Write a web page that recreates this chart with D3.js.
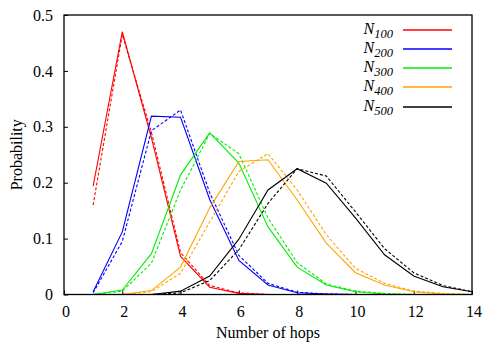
<!DOCTYPE html>
<html lang="en">
<head>
<meta charset="utf-8">
<script src="https://cdn.jsdelivr.net/npm/d3@7"></script>
<style>
  body { margin: 0; background: #fff; }
  text { font-family: "Liberation Serif", "DejaVu Serif", serif; fill: #000; }
</style>
</head>
<body>
<script>
var hops = [1, 2, 3, 4, 5, 6, 7, 8, 9, 10, 11, 12, 13, 14];
var names = ["100", "200", "300", "400", "500"];
var colors = ["#ff0000", "#0000ff", "#00ee00", "#ffa500", "#000000"];

// solid = measured, dashed = model
var n100 = [0.194, 0.47, 0.28, 0.068, 0.013, 0.002, 0, 0, 0, 0, 0, 0, 0, 0];
var n100d = [0.16, 0.465, 0.29, 0.075, 0.016, 0.003, 0, 0, 0, 0, 0, 0, 0, 0];
var n200 = [0.005, 0.112, 0.319, 0.317, 0.17, 0.061, 0.017, 0.003, 0.001, 0, 0, 0, 0, 0];
var n200d = [0.003, 0.095, 0.293, 0.33, 0.182, 0.07, 0.02, 0.004, 0.001, 0, 0, 0, 0, 0];
var n300 = [0, 0.008, 0.073, 0.214, 0.289, 0.235, 0.121, 0.049, 0.017, 0.005, 0.001, 0, 0, 0];
var n300d = [0, 0.006, 0.056, 0.187, 0.288, 0.252, 0.137, 0.057, 0.019, 0.006, 0.002, 0, 0, 0];
var n400 = [0, 0, 0.007, 0.049, 0.155, 0.238, 0.241, 0.169, 0.092, 0.039, 0.017, 0.005, 0.001, 0];
var n400d = [0, 0, 0.005, 0.038, 0.13, 0.22, 0.252, 0.187, 0.107, 0.047, 0.02, 0.006, 0.002, 0];
var n500 = [0, 0, 0, 0.006, 0.033, 0.099, 0.187, 0.225, 0.199, 0.137, 0.071, 0.033, 0.014, 0.005];
var n500d = [0, 0, 0, 0.003, 0.025, 0.08, 0.163, 0.225, 0.212, 0.148, 0.082, 0.039, 0.016, 0.005];

var solids = [n100, n200, n300, n400, n500];
var dashes = [n100d, n200d, n300d, n400d, n500d];

var w = 485, h = 346;
var pl = 64, pr = 472, pt = 15, pb = 294.5;

var svg = d3.select("body").append("svg")
  .attr("width", w)
  .attr("height", h);

var x = d3.scaleLinear().domain([0, 14]).range([pl, pr]);
var y = d3.scaleLinear().domain([0, 0.5]).range([pb, pt]);

var line = d3.line()
  .x(function(d, i) { return x(hops[i]); })
  .y(function(d) { return y(d); });

// axes, gnuplot style inward ticks
var xAxis = svg.append("g")
  .attr("transform", "translate(0," + pb + ")")
  .call(d3.axisBottom(x).tickValues([0, 2, 4, 6, 8, 10, 12, 14]).tickSizeInner(-4).tickSizeOuter(0).tickPadding(10.5));
var yAxis = svg.append("g")
  .attr("transform", "translate(" + pl + ",0)")
  .call(d3.axisLeft(y).tickValues([0, 0.1, 0.2, 0.3, 0.4, 0.5]).tickFormat(function(d) { return d === 0 ? "0" : d3.format(".1f")(d); }).tickSizeInner(-4).tickSizeOuter(0).tickPadding(11));

[xAxis, yAxis].forEach(function(a) {
  a.select(".domain").remove();
  a.selectAll("text").style("font-family", "Liberation Serif").style("font-size", "16px");
  a.selectAll("line").attr("stroke", "#000");
});
xAxis.selectAll("text").attr("dy", "0.75em").attr("dx", 1.5);

// series
solids.forEach(function(s, k) {
  svg.append("path")
    .datum(dashes[k])
    .attr("d", line)
    .attr("fill", "none")
    .attr("stroke", colors[k])
    .attr("stroke-width", 1.1)
    .attr("stroke-dasharray", "3,2");
  svg.append("path")
    .datum(s)
    .attr("d", line)
    .attr("fill", "none")
    .attr("stroke", colors[k])
    .attr("stroke-width", 1.1);
});

// frame
svg.append("rect")
  .attr("x", pl)
  .attr("y", pt)
  .attr("width", pr - pl)
  .attr("height", pb - pt)
  .attr("fill", "none")
  .attr("stroke", "#000")
  .attr("stroke-width", 1.3);

// legend
var lg = svg.append("g");
names.forEach(function(n, k) {
  var ly = Math.round(29.5 + k * 19.3);
  var t = lg.append("text")
    .attr("x", 393)
    .attr("y", ly + 4)
    .attr("text-anchor", "end")
    .style("font-style", "italic")
    .style("font-size", "16px");
  t.append("tspan").text("N");
  t.append("tspan").attr("dy", 4).style("font-size", "12.5px").text(n);
  lg.append("line")
    .attr("x1", 403).attr("x2", 452)
    .attr("y1", ly).attr("y2", ly)
    .attr("stroke", colors[k])
    .attr("stroke-width", 1.6);
});

svg.append("text")
  .attr("x", (pl + pr) / 2)
  .attr("y", 338)
  .attr("text-anchor", "middle")
  .style("font-size", "16px")
  .text("Number of hops");

svg.append("text")
  .attr("transform", "translate(22," + ((pt + pb) / 2) + ") rotate(-90)")
  .attr("text-anchor", "middle")
  .style("font-size", "16px")
  .text("Probability");
</script>
</body>
</html>
